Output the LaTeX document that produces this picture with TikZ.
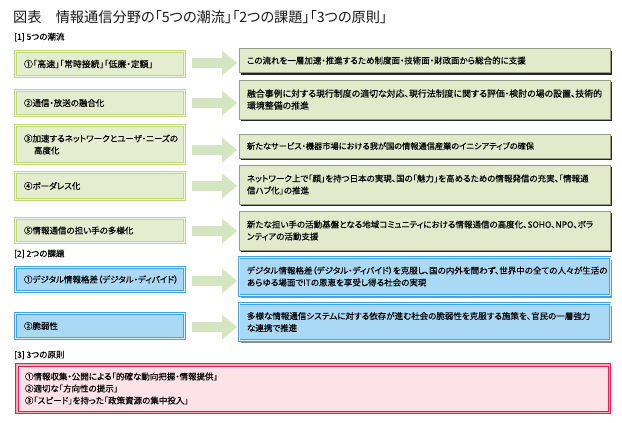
\documentclass[tikz,border=0pt]{standalone}
\usepackage{fontspec}
\setmainfont{Noto Sans CJK JP}[RawFeature=+palt, FakeBold=0.4]
\newfontfamily\titlefont{Noto Sans CJK JP}[RawFeature=+palt]
\usetikzlibrary{shadows}
\definecolor{lgfill}{HTML}{E5EDD0}
\definecolor{lgline}{HTML}{BFD77A}
\definecolor{lggap}{HTML}{F4F8E8}
\definecolor{rgfill}{HTML}{E3EACB}
\definecolor{rgline}{HTML}{9A9C88}
\definecolor{bfill}{HTML}{AAD9F5}
\definecolor{bline}{HTML}{3FA6E3}
\definecolor{bgap}{HTML}{DDF0FB}
\definecolor{pfill}{HTML}{FDE3E7}
\definecolor{pline}{HTML}{E0205A}
\definecolor{pgap}{HTML}{F7AEB8}
\definecolor{arrowc}{HTML}{D4E5C2}
\newcommand\garrow[1]{\fill[arrowc] (192,#1-5) -- (222,#1-5) -- (222,#1-12.5) -- (237,#1) -- (222,#1+12.5) -- (222,#1+5) -- (192,#1+5) -- cycle;}
\begin{document}
\begin{tikzpicture}[x=1pt,y=-1pt,
  txt/.style={font=\fontsize{8.5}{12}\selectfont, text=black},
  lbox/.style={txt, draw=lgline, double=lggap, double distance=1.4pt, line width=0.8pt,
    fill=lgfill, text width=152pt, inner xsep=8.5pt, align=left},
  blbox/.style={lbox, draw=bline, double=bgap, fill=bfill},
  rbox/.style={txt, draw=rgline, line width=0.5pt, fill=rgfill, text width=355pt,
    inner xsep=8pt, align=left,
    drop shadow={shadow xshift=2pt, shadow yshift=-2pt, fill=black!85, opacity=1}},
  brbox/.style={rbox, draw=bline, double=bgap, double distance=1pt, line width=0.7pt, fill=bfill,
    drop shadow={shadow xshift=2pt, shadow yshift=-2pt, fill=black!45, opacity=1}},
  pbox/.style={txt, draw=pline, double=pgap, double distance=1.5pt, line width=1pt,
    fill=pfill, text width=576pt, inner xsep=8.25pt, align=left},
  sec/.style={txt, anchor=west, inner sep=0pt}]
\useasboundingbox[fill=white] (0,0) rectangle (622,423);

\node[anchor=west, inner sep=0pt, font=\titlefont\fontsize{14.2}{16}\selectfont, text=black!90] (title) at (13,17)
  {図表　情報通信分野の「5つの潮流」「2つの課題」「3つの原則」};

\node[sec] (s1) at (14,37) {[1] 5つの潮流};
\node[sec] (s2) at (14,254) {[2] 2つの課題};
\node[sec] (s3) at (14,355) {[3] 3つの原則};

% left boxes
\node[lbox, minimum height=25pt, font=\fontsize{8.9}{12}\selectfont] (L1) at (100,64) {①「高速」「常時接続」「低廉・定額」};
\node[lbox, minimum height=25pt] (L2) at (100,103) {②通信・放送の融合化};
\node[lbox, minimum height=38pt] (L3) at (100,144.5) {③加速するネットワークとユーザ・ニーズの\\\hspace*{10pt}高度化};
\node[lbox, minimum height=27pt] (L4) at (100,186) {④ボーダレス化};
\node[lbox, minimum height=24pt] (L5) at (100,230.5) {⑤情報通信の担い手の多様化};
\node[blbox, minimum height=24pt] (B1) at (100,279.5) {①デジタル情報格差（デジタル・ディバイド）};
\node[blbox, minimum height=25pt] (B2) at (100,326) {②脆弱性};

% right boxes
\node[rbox, minimum height=24pt] (R1) at (424.5,60.5) {この流れを一層加速・推進するため制度面・技術面・財政面から総合的に支援};
\node[rbox, minimum height=39pt, font=\fontsize{8.9}{12}\selectfont] (R2) at (424.5,99.5) {融合事例に対する現行制度の適切な対応、現行法制度に関する評価・検討の場の設置、技術的\\環境整備の推進};
\node[rbox, minimum height=24pt, font=\fontsize{8.2}{12}\selectfont] (R3) at (424.5,146) {新たなサービス・機器市場における我が国の情報通信産業のイニシアティブの確保};
\node[rbox, minimum height=39pt] (R4) at (424.5,184.5) {ネットワーク上で「顔」を持つ日本の実現、国の「魅力」を高めるための情報発信の充実、「情報通\\信ハブ化」の推進};
\node[rbox, minimum height=39pt] (R5) at (424.5,230.5) {新たな担い手の活動基盤となる地域コミュニティにおける情報通信の高度化、SOHO、NPO、ボラ\\ンティアの活動支援};
\node[brbox, minimum height=38pt] (RB1) at (424.5,276.5) {デジタル情報格差（デジタル・ディバイド）を克服し、国の内外を問わず、世界中の全ての人々が生活の\\あらゆる場面でITの恩恵を享受し得る社会の実現};
\node[brbox, minimum height=37pt] (RB2) at (424.5,322) {多様な情報通信システムに対する依存が進む社会の脆弱性を克服する施策を、官民の一層強力\\な連携で推進};

% arrows
\garrow{63}
\garrow{103}
\garrow{150}
\garrow{186}
\garrow{231}
\garrow{281}
\garrow{327}

% principles
\node[pbox, minimum height=47.5pt] (P) at (313,388.5) {①情報収集・公開による「的確な動向把握・情報提供」\\②適切な「方向性の提示」\\③「スピード」を持った「政策資源の集中投入」};
\end{tikzpicture}
\end{document}
